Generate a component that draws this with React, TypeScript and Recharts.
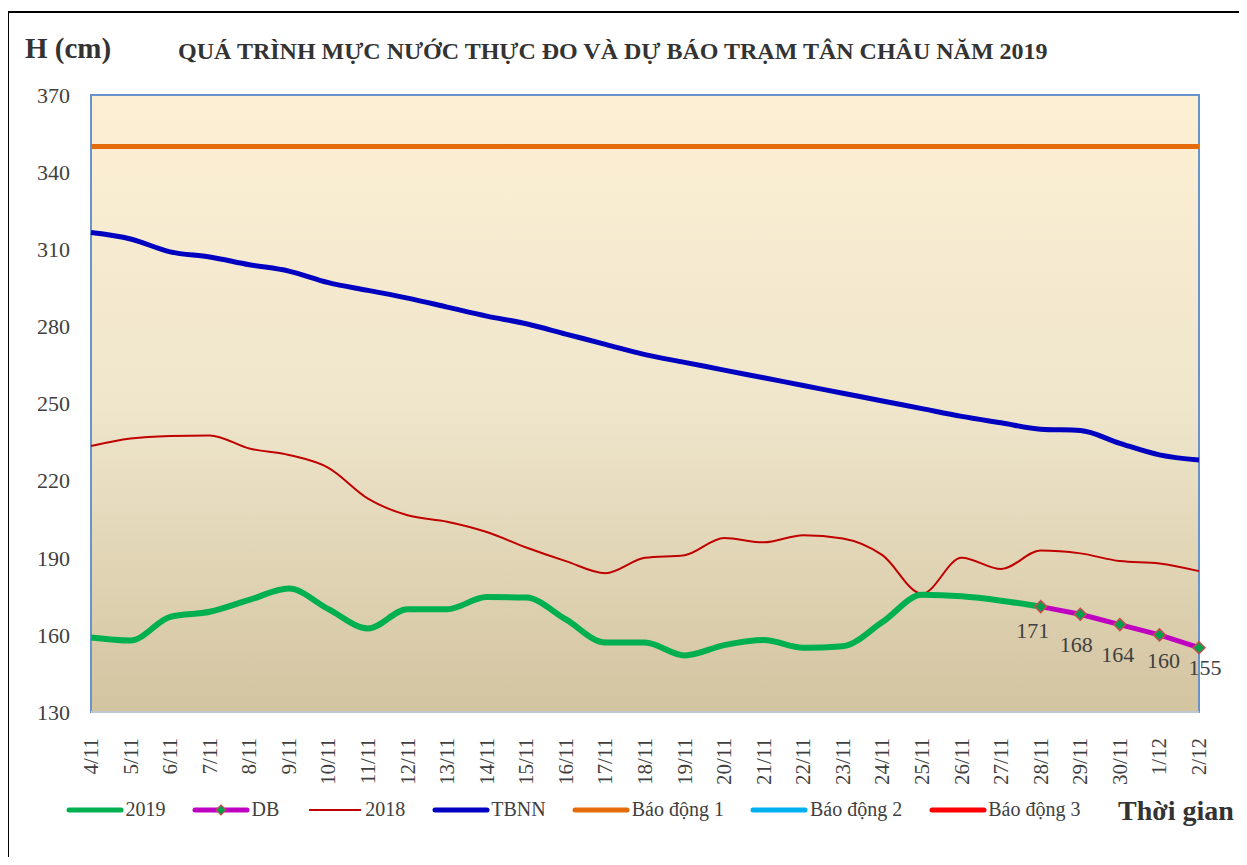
import React from 'react'
import { LineChart, Line, XAxis, YAxis, ReferenceArea, LabelList } from 'recharts'

const dates = [
  '4/11', '5/11', '6/11', '7/11', '8/11', '9/11', '10/11', '11/11', '12/11', '13/11',
  '14/11', '15/11', '16/11', '17/11', '18/11', '19/11', '20/11', '21/11', '22/11', '23/11',
  '24/11', '25/11', '26/11', '27/11', '28/11', '29/11', '30/11', '1/12', '2/12',
]

const h2019 = [
  159, 157.8, 167, 169, 173.6, 178, 170, 162.5, 170, 170,
  174.7, 174.5, 166, 157, 157, 152, 156, 158, 155, 155.6,
  165, 175.6, 175, 173.3, 171, null, null, null, null,
]

const forecast = [
  null, null, null, null, null, null, null, null, null, null,
  null, null, null, null, null, null, null, null, null, null,
  null, null, null, null, 171, 168, 164, 160, 155,
]

const h2018 = [
  233.5, 236.4, 237.4, 237.6, 232.5, 230, 225, 213, 206.5, 204,
  200, 194, 188.7, 184, 190, 191, 197.7, 196, 198.8, 197.5,
  191, 176, 190, 185.6, 192.8, 191.7, 188.7, 187.8, 184.8,
]

const tbnn = [
  316.5, 314, 309, 307, 304, 301.5, 297, 294, 291, 287.5,
  284, 281, 277, 273, 269, 266, 263, 260, 257, 254,
  251, 248, 245, 242.5, 240, 239.5, 234.5, 230, 228,
]

const alarm1 = 350
const alarm2 = 400
const alarm3 = 450

const yTicks = [130, 160, 190, 220, 250, 280, 310, 340, 370]

const data = dates.map((d, i) => ({
  date: d,
  y2019: h2019[i],
  db: forecast[i],
  y2018: h2018[i],
  tbnn: tbnn[i],
  bd1: alarm1,
  bd2: alarm2,
  bd3: alarm3,
}))

const legendItems = [
  { name: '2019', color: '#00B050', width: 5 },
  { name: 'DB', color: '#C000C0', width: 5, marker: true },
  { name: '2018', color: '#C00000', width: 2 },
  { name: 'TBNN', color: '#0000C0', width: 5 },
  { name: 'Báo động 1', color: '#E46C0A', width: 5 },
  { name: 'Báo động 2', color: '#00B0F0', width: 5 },
  { name: 'Báo động 3', color: '#FF0000', width: 5 },
]

const font = '"Liberation Serif", "Times New Roman", serif'
const textColor = '#404040'

function Diamond(props: any) {
  const { cx, cy, value } = props
  if (value == null || cx == null) return null
  const r = 6
  return (
    <polygon
      points={`${cx},${cy - r} ${cx + r},${cy} ${cx},${cy + r} ${cx - r},${cy}`}
      fill="#00A050"
      stroke="#C0504D"
      strokeWidth={1.5}
    />
  )
}

// labels in the original sit a little below and to the side of each diamond
const labelShift = [
  [-8, 24], [-4, 30], [-2, 30], [4, 26], [6, 20],
]

function ForecastLabel({ x, y, value, index }: any) {
  if (value == null) return null
  const k = index - 24
  const [dx, dy] = labelShift[k] || [0, 20]
  return (
    <text
      x={x + dx}
      y={y + dy}
      textAnchor="middle"
      dominantBaseline="central"
      fontFamily={font}
      fontSize={22}
      fill={textColor}
    >
      {value}
    </text>
  )
}

function DateTick({ x, y, payload }: any) {
  return (
    <text
      x={x}
      y={y + 18}
      transform={`rotate(-90, ${x}, ${y + 18})`}
      textAnchor="end"
      dominantBaseline="central"
      fontFamily={font}
      fontSize={21}
      fill={textColor}
    >
      {payload.value}
    </text>
  )
}

export default function App() {
  return (
    <div style={{ position: 'relative', width: 1231, height: 849, overflow: 'hidden', fontFamily: font }}>
      <div
        style={{
          position: 'absolute',
          left: -1,
          top: 3,
          width: 1300,
          height: 900,
          border: '2px solid #000',
          boxSizing: 'border-box',
        }}
      />
      <div
        style={{
          position: 'absolute',
          left: 17,
          top: 24,
          fontSize: 29,
          fontWeight: 'bold',
          color: '#333',
          whiteSpace: 'nowrap',
        }}
      >
        H (cm)
      </div>
      <div
        style={{
          position: 'absolute',
          left: 170,
          top: 30,
          fontSize: 24,
          fontWeight: 'bold',
          color: '#333',
          whiteSpace: 'nowrap',
        }}
      >
        QUÁ TRÌNH MỰC NƯỚC THỰC ĐO VÀ DỰ BÁO TRẠM TÂN CHÂU NĂM 2019
      </div>

      <div style={{ position: 'absolute', left: 0, top: 0 }}>
        <LineChart width={1231} height={800} data={data} margin={{ top: 87, right: 40, bottom: 0, left: 0 }}>
          <defs>
            <linearGradient id="bgGrad" x1="0" y1="0" x2="0" y2="1">
              <stop offset="0%" stopColor="#FDEFD4" />
              <stop offset="50%" stopColor="#EFE6CC" />
              <stop offset="100%" stopColor="#D3C4A0" />
            </linearGradient>
          </defs>
          <ReferenceArea
            x1="4/11"
            x2="2/12"
            y1={130}
            y2={370}
            fill="url(#bgGrad)"
            fillOpacity={1}
            stroke="#6A93CC"
            strokeWidth={2}
            ifOverflow="visible"
          />
          <XAxis
            dataKey="date"
            interval={0}
            height={96}
            tickLine={false}
            axisLine={{ stroke: '#BFC7D3', strokeWidth: 2 }}
            tick={<DateTick />}
          />
          <YAxis
            width={83}
            domain={[130, 370]}
            ticks={yTicks}
            allowDataOverflow
            tickLine={false}
            axisLine={false}
            tickSize={0}
            tickMargin={21}
            tick={{ fontSize: 22, fill: textColor, fontFamily: font }}
          />
          <Line dataKey="bd3" stroke="#FF0000" strokeWidth={5} dot={false} isAnimationActive={false} />
          <Line dataKey="bd2" stroke="#00B0F0" strokeWidth={5} dot={false} isAnimationActive={false} />
          <Line dataKey="bd1" stroke="#E46C0A" strokeWidth={5} dot={false} isAnimationActive={false} />
          <Line type="monotone" dataKey="tbnn" stroke="#0000C0" strokeWidth={5} dot={false} isAnimationActive={false} />
          <Line type="monotone" dataKey="y2018" stroke="#C00000" strokeWidth={2} dot={false} isAnimationActive={false} />
          <Line type="monotone" dataKey="y2019" stroke="#00B050" strokeWidth={6} dot={false} isAnimationActive={false} />
          <Line
            dataKey="db"
            stroke="#C000C0"
            strokeWidth={5}
            dot={<Diamond />}
            isAnimationActive={false}
          >
            <LabelList dataKey="db" content={<ForecastLabel />} />
          </Line>
        </LineChart>
      </div>

      <div
        style={{
          position: 'absolute',
          left: 58,
          top: 790,
          display: 'flex',
          alignItems: 'center',
          fontSize: 20,
          color: textColor,
          whiteSpace: 'nowrap',
        }}
      >
        {legendItems.map((it) => (
          <div key={it.name} style={{ display: 'flex', alignItems: 'center', marginRight: 26.5 }}>
            <svg width={58} height={14} style={{ marginRight: 1.5 }}>
              <line
                x1={3}
                y1={7}
                x2={55}
                y2={7}
                stroke={it.color}
                strokeWidth={it.width}
                strokeLinecap={it.width > 2 ? 'round' : 'butt'}
              />
              {it.marker && (
                <polygon points="29,2 34,7 29,12 24,7" fill="#00A050" stroke="#C0504D" strokeWidth={1.2} />
              )}
            </svg>
            <span>{it.name}</span>
          </div>
        ))}
      </div>
      <div
        style={{
          position: 'absolute',
          left: 1110,
          top: 787,
          fontSize: 28,
          fontWeight: 'bold',
          color: '#333',
          whiteSpace: 'nowrap',
        }}
      >
        Thời gian
      </div>
    </div>
  )
}
